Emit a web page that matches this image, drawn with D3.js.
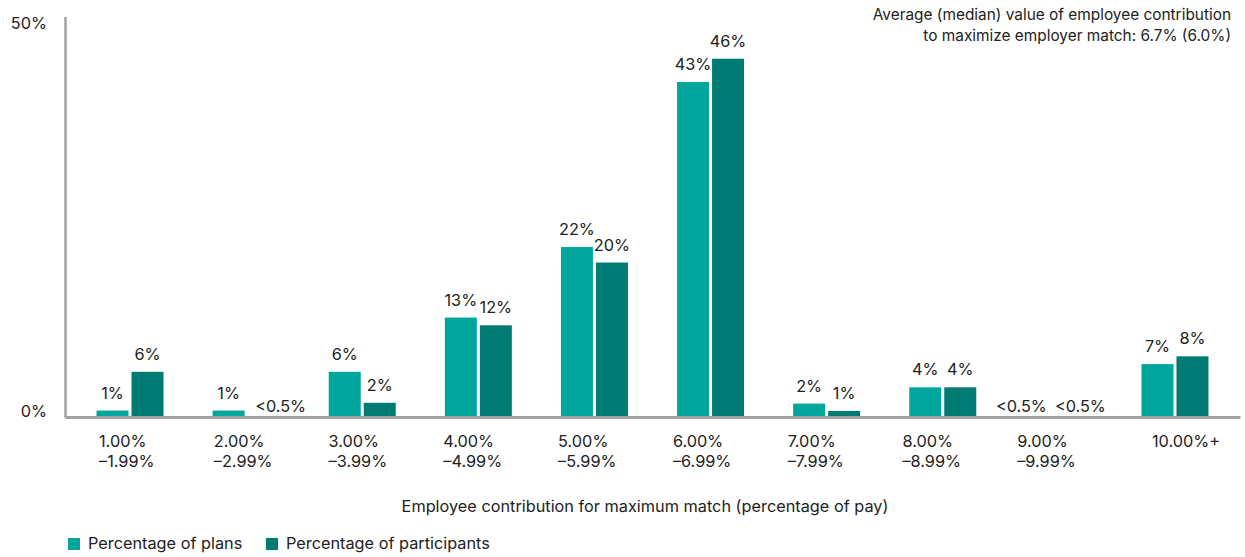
<!DOCTYPE html>
<html>
<head>
<meta charset="utf-8">
<script src="https://cdn.jsdelivr.net/npm/d3@7"></script>
<style>
  body { margin: 0; background: #fff; }
  svg text { font-family: Inter, "Noto Sans", sans-serif; fill: #222; }
</style>
</head>
<body>
<svg id="chart"></svg>
<script>
// categories (tick labels, two lines)
var rangeStart = ["1.00%", "2.00%", "3.00%", "4.00%", "5.00%", "6.00%", "7.00%", "8.00%", "9.00%", "10.00%+"]
var rangeEnd = ["–1.99%", "–2.99%", "–3.99%", "–4.99%", "–5.99%", "–6.99%", "–7.99%", "–8.99%", "–9.99%", ""]

// series values (percent)
var plans = [0.7, 0.7, 5.7, 12.7, 21.8, 43.1, 1.6, 3.7, 0, 6.7]
var participants = [5.7, 0, 1.7, 11.7, 19.8, 46.1, 0.65, 3.7, 0, 7.7]

// value labels printed above bars
var plansLabels = ["1%", "1%", "6%", "13%", "22%", "43%", "2%", "4%", "<0.5%", "7%"]
var participantsLabels = ["6%", "<0.5%", "2%", "12%", "20%", "46%", "1%", "4%", "<0.5%", "8%"]

var seriesNames = ["Percentage of plans", "Percentage of participants"]
var yTicks = [0, 50]

var dimensions = {
    width: 1245,
    height: 557,
    margin: {
        top: 17,
        bottom: 141,
        right: 5,
        left: 65
    }
}
var colors = { "Percentage of plans": "#00a59c", "Percentage of participants": "#007b73" }
var fontSize = "16.3px"

var svg = d3.select("#chart")
    .attr("width", dimensions.width)
    .attr("height", dimensions.height)

var baseY = dimensions.height - dimensions.margin.bottom  // 416

var x0 = d3.scaleBand()
    .domain(rangeStart)
    .range([dimensions.margin.left, dimensions.width - dimensions.margin.right])
    .paddingInner(0.423)
    .paddingOuter(0.2715)

var x1 = d3.scaleBand()
    .domain(seriesNames)
    .range([0, x0.bandwidth()])
    .paddingInner(0.0857)

var yScale = d3.scaleLinear()
    .domain([0, 50])
    .range([baseY, 28.5])

// rows for the bars
var rows = []
rangeStart.forEach(function(c, i){
    rows.push({cat: c, series: seriesNames[0], value: plans[i], label: plansLabels[i]})
    rows.push({cat: c, series: seriesNames[1], value: participants[i], label: participantsLabels[i]})
})

svg.append("g")
    .selectAll("rect")
    .data(rows)
    .enter()
    .append("rect")
    .attr("x", d => x0(d.cat) + x1(d.series))
    .attr("y", d => yScale(d.value))
    .attr("width", x1.bandwidth())
    .attr("height", d => baseY - yScale(d.value))
    .attr("fill", d => colors[d.series])

// the "<0.5%" labels are nudged sideways so they don't collide
var nudge = { "2.00%|Percentage of participants": 17, "9.00%|Percentage of plans": -20, "9.00%|Percentage of participants": 4 }

svg.append("g")
    .selectAll("text")
    .data(rows)
    .enter()
    .append("text")
    .attr("x", d => x0(d.cat) + x1(d.series) + x1.bandwidth()/2 + (nudge[d.cat + "|" + d.series] || 0))
    .attr("y", d => d.value > 0 ? yScale(d.value) - 12 : baseY - 4)
    .attr("text-anchor", "middle")
    .style("font-size", fontSize)
    .text(d => d.label)

// x axis (baseline only)
var xAxisGen = d3.axisBottom(x0).tickSize(0).tickSizeOuter(0).tickFormat("")
var xAxis = svg.append("g")
    .attr("transform", "translate(0," + (baseY + 1) + ")")
    .call(xAxisGen)
xAxis.select(".domain").attr("stroke", "#a3a3a3").attr("stroke-width", 3)

// tick labels, two lines, left aligned
var labelX = d3.scalePoint()
    .domain(rangeStart)
    .range([99, 1132])

var tickText = svg.append("g")
    .selectAll("text")
    .data(rangeStart)
    .enter()
    .append("text")
    .attr("x", d => labelX(d) + (d == "10.00%+" ? 20 : 0))
    .attr("y", 447)
    .style("font-size", fontSize)
tickText.append("tspan").text(d => d)
tickText.append("tspan")
    .attr("x", d => labelX(d))
    .attr("dy", 20)
    .text((d, i) => rangeEnd[i])

// y axis
svg.append("line")
    .attr("x1", dimensions.margin.left + 0.5)
    .attr("x2", dimensions.margin.left + 0.5)
    .attr("y1", dimensions.margin.top)
    .attr("y2", baseY + 2)
    .attr("stroke", "#a3a3a3")
    .attr("stroke-width", 2.5)

var yAxisGen = d3.axisLeft(yScale)
    .tickValues(yTicks)
    .tickSize(0)
    .tickPadding(18)
    .tickFormat(d => d + "%")
var yAxis = svg.append("g")
    .attr("transform", "translate(" + dimensions.margin.left + ",0)")
    .call(yAxisGen)
yAxis.select(".domain").remove()
yAxis.selectAll("text")
    .attr("dy", "0")
    .style("font-size", fontSize)
    .attr("fill", "#222")
    .style("font-family", "Inter, sans-serif")

// axis title
svg.append("text")
    .attr("x", 645)
    .attr("y", 512)
    .attr("text-anchor", "middle")
    .style("font-size", fontSize)
    .text("Employee contribution for maximum match (percentage of pay)")

// note top right
var note = svg.append("text")
    .attr("text-anchor", "end")
    .style("font-size", "15.4px")
note.append("tspan").attr("x", 1231).attr("y", 20).text("Average (median) value of employee contribution")
note.append("tspan").attr("x", 1231).attr("y", 41).text("to maximize employer match: 6.7% (6.0%)")

// legend
var legend = svg.append("g")
    .selectAll("g")
    .data(seriesNames)
    .enter()
    .append("g")
    .attr("transform", (d, i) => "translate(" + (i == 0 ? 68 : 266) + ",538)")
legend.append("rect")
    .attr("width", 12)
    .attr("height", 12)
    .attr("fill", d => colors[d])
legend.append("text")
    .attr("x", 20)
    .attr("y", 11)
    .style("font-size", fontSize)
    .text(d => d)
</script>
</body>
</html>
